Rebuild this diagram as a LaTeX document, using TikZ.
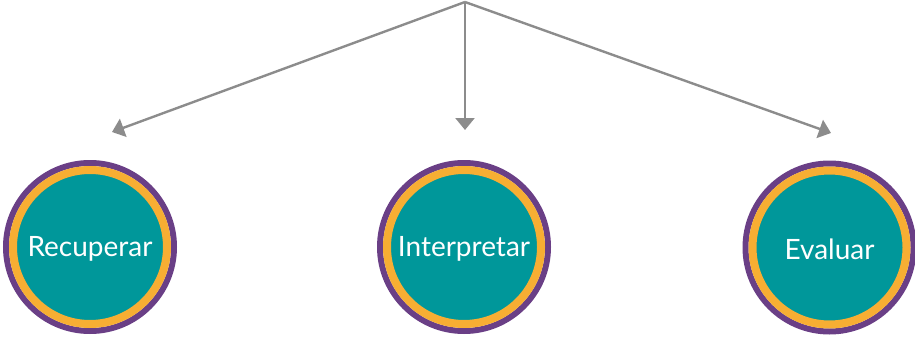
\documentclass[tikz,border=0pt]{standalone}
\usepackage{fontspec}
\setmainfont{Lato}
\usetikzlibrary{arrows.meta}
\definecolor{ringpurple}{HTML}{6A3F86}
\definecolor{ringorange}{HTML}{F7AE33}
\definecolor{tealfill}{HTML}{00979A}
\definecolor{linegray}{HTML}{8C8C8C}
\tikzset{
  bubble/.style={circle, minimum size=154pt, inner sep=0pt, fill=tealfill,
    draw=ringorange, line width=8pt, text=white, font=\fontsize{28}{30}\selectfont},
  outerring/.style={circle, minimum size=168pt, inner sep=0pt, draw=ringpurple, line width=6pt},
  link/.style={draw=linegray, line width=2.4pt, -{Triangle[length=12pt,width=19pt]}}
}
\begin{document}
\begin{tikzpicture}[x=1pt,y=-1pt]
\useasboundingbox (0,0) rectangle (915,337);
\coordinate (top) at (465,2);
\coordinate (t1) at (112,132);
\coordinate (t2) at (465,130);
\coordinate (t3) at (831,133);
\draw[link] (top) -- (t1);
\draw[link] (top) -- (t2);
\draw[link] (top) -- (t3);
\node[outerring] (o1) at (90,247) {};
\node[outerring] (o2) at (464,247) {};
\node[outerring] (o3) at (829.5,247.5) {};
\node[bubble] (c1) at (o1) {};
\node[bubble] (c2) at (o2) {};
\node[bubble] (c3) at (o3) {};
\node[text=white, font=\fontsize{28}{30}\selectfont] (l1) at ([yshift=-2pt]c1.center) {Recuperar};
\node[text=white, font=\fontsize{28}{30}\selectfont] (l2) at ([yshift=-2pt]c2.center) {Interpretar};
\node[text=white, font=\fontsize{28}{30}\selectfont] (l3) at ([yshift=-2pt]c3.center) {Evaluar};
\end{tikzpicture}
\end{document}
